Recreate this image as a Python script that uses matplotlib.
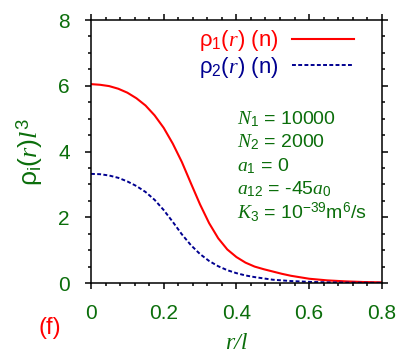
import matplotlib
matplotlib.use('Agg')
import matplotlib.pyplot as plt
from matplotlib.ticker import MultipleLocator

# density profiles
r = [0, 0.025, 0.05, 0.075, 0.1, 0.125, 0.15, 0.175, 0.2, 0.225, 0.25, 0.275,
     0.3, 0.325, 0.35, 0.375, 0.4, 0.425, 0.45, 0.475, 0.5, 0.525, 0.55, 0.6,
     0.65, 0.7, 0.75, 0.8]
rho1 = [6.05, 6.03, 5.99, 5.91, 5.79, 5.62, 5.40, 5.10, 4.72, 4.24, 3.68, 3.03,
        2.39, 1.82, 1.36, 1.02, 0.79, 0.62, 0.50, 0.42, 0.35, 0.28, 0.22, 0.13,
        0.08, 0.05, 0.03, 0.02]
rho2 = [3.32, 3.31, 3.27, 3.20, 3.09, 2.95, 2.77, 2.53, 2.22, 1.86, 1.48, 1.15,
        0.88, 0.67, 0.51, 0.39, 0.30, 0.23, 0.18, 0.14, 0.10, 0.08, 0.06, 0.035,
        0.02, 0.012, 0.008, 0.005]

labels = [r'$\mathrm{ρ}_1(r)$ (n)', r'$\mathrm{ρ}_2(r)$ (n)']
params = [r'$N_1$ = 10000', r'$N_2$ = 2000', r'$a_1$ = 0',
          r'$a_{12}$ = -45$a_0$', r'$K_3$ = 10$^{-39}$m$^6$/s']

green = '#0b6e0b'
plt.rcParams['font.family'] = ['Liberation Sans', 'DejaVu Sans']
plt.rcParams['mathtext.fontset'] = 'custom'
plt.rcParams['mathtext.rm'] = 'Liberation Sans'
plt.rcParams['mathtext.it'] = 'Liberation Serif:italic'
plt.rcParams['mathtext.default'] = 'it'

fig = plt.figure(figsize=(3.99, 3.64), dpi=100)
ax = fig.add_axes([0.228, 0.2225, 0.729, 0.7225])

ax.plot(r, rho1, color='red', lw=1.5, label=labels[0])
ax.plot(r, rho2, color='#000090', lw=1.4, dashes=(2.0, 1.2), label=labels[1])

ax.set_xlim(0, 0.8)
ax.set_ylim(0, 8)
ax.xaxis.set_major_locator(MultipleLocator(0.2))
ax.xaxis.set_minor_locator(MultipleLocator(0.04))
ax.yaxis.set_major_locator(MultipleLocator(2))
ax.yaxis.set_minor_locator(MultipleLocator(0.5))
ax.xaxis.set_major_formatter(lambda v, p: '0' if v == 0 else f'{v:.1f}')
ax.tick_params(which='both', direction='out', top=True, right=True,
               width=1.1, labelsize=15, labelcolor=green, pad=11)
ax.tick_params(which='major', length=4.3)
ax.tick_params(which='minor', length=2.2)
for s in ax.spines.values():
    s.set_linewidth(1.1)

ax.set_xlabel('r/l', family='Liberation Serif', style='italic', fontsize=17,
              color=green, labelpad=7)
ax.set_ylabel(r'$\mathrm{ρ}_\mathrm{i}(r)l^3$', fontsize=19, color=green, labelpad=9)

ax.legend(loc='upper right', bbox_to_anchor=(0.904, 0.968), frameon=False,
          markerfirst=False, handlelength=2.8, handletextpad=0.6,
          fontsize=16, labelspacing=0.05, borderpad=0, borderaxespad=0,
          labelcolor='linecolor')

for i, t in enumerate(params):
    ax.text(0.502, 0.605 - i * 0.0894, t, transform=ax.transAxes,
            fontsize=14, color=green, va='baseline', ha='left')

fig.text(50 / 399, 1 - 328 / 364, '(f)', color='red', fontsize=17,
         ha='center', va='center')

fig.savefig('out.png', dpi=100)
